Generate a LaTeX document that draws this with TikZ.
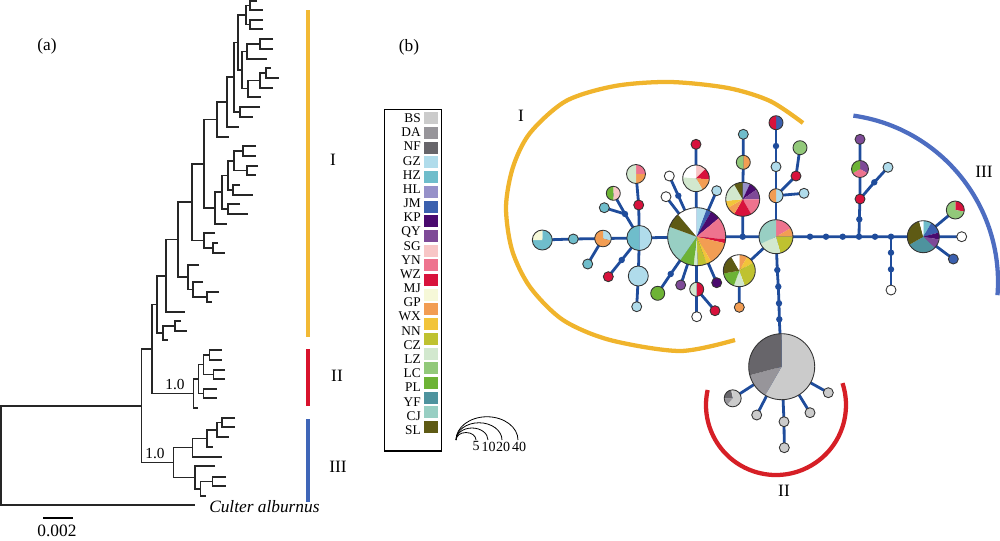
\documentclass[tikz,border=0pt]{standalone}
\usepackage{fontspec}
\setmainfont{Liberation Serif}
\definecolor{cBS}{HTML}{CBCBCB}
\definecolor{cDA}{HTML}{97959A}
\definecolor{cNF}{HTML}{67656A}
\definecolor{cGZ}{HTML}{B0DCEB}
\definecolor{cHZ}{HTML}{6FBDCB}
\definecolor{cHL}{HTML}{9691C9}
\definecolor{cJM}{HTML}{3B60AE}
\definecolor{cKP}{HTML}{4A0A6E}
\definecolor{cQY}{HTML}{7E4A97}
\definecolor{cSG}{HTML}{F8C6C6}
\definecolor{cYN}{HTML}{EE738E}
\definecolor{cWZ}{HTML}{D8123C}
\definecolor{cCR}{HTML}{F6F8D8}
\definecolor{cOR}{HTML}{F29D53}
\definecolor{cYE}{HTML}{F2C43A}
\definecolor{cYG}{HTML}{BFC230}
\definecolor{cPG}{HTML}{D2E8CE}
\definecolor{cLG}{HTML}{92C97A}
\definecolor{cGR}{HTML}{6DB335}
\definecolor{cDT}{HTML}{4E939E}
\definecolor{cLT}{HTML}{98CFC3}
\definecolor{cOL}{HTML}{5E5A14}
\definecolor{netblue}{HTML}{1F4C9B}
\definecolor{arcY}{HTML}{F0B42C}
\definecolor{arcB}{HTML}{4D6DC1}
\definecolor{arcR}{HTML}{D61F26}
\definecolor{barY}{HTML}{F2B935}
\definecolor{barR}{HTML}{D8122C}
\definecolor{barB}{HTML}{3F66B8}
\tikzset{
  tree/.style={line width=0.8pt, black!85},
  edge/.style={line width=2.1pt, netblue},
  pieline/.style={draw=black!80, line width=0.65pt},
  bigtxt/.style={font=\fontsize{13}{15}\selectfont, inner sep=0pt},
  legtxt/.style={font=\fontsize{10}{11}\selectfont, inner sep=0pt, anchor=base east},
}
\newcommand\mypie[3]{%
  \gdef\curang{-90}%
  \foreach \pc/\pd in {#3}{%
    \pgfmathsetmacro\nextang{\curang+\pd}%
    \fill[\pc] (#1) -- ++(\curang:#2) arc[start angle=\curang, end angle=\nextang, radius=#2] -- cycle;
    \xdef\curang{\nextang}%
  }%
  \draw[pieline] (#1) circle[radius=#2];
}
\newcommand\onec[3]{\fill[#3] (#1) circle[radius=#2]; \draw[pieline] (#1) circle[radius=#2];}
\newcommand\dotn[1]{\fill[netblue] (#1) circle[radius=3.2];}
\newcommand\br[5]{\draw[tree] (#3,#2) -- (#1,#2) -- (#1,#4) -- (#5,#4);}
\begin{document}
\begin{tikzpicture}[x=0.75pt,y=-0.75pt]
\useasboundingbox (0,0) rectangle (1000,540);
% ---------------- (a) tree ----------------
\node[bigtxt] (la) at (47,46) {(a)};
\br{250}{1}{257}{10}{263}
\br{250}{20}{263}{29}{263}
\br{246}{5.5}{250}{24.5}{250}
\br{260}{39}{273}{49}{273}
\br{247}{44}{260}{59}{267}
\br{266}{68}{271}{78}{279}
\br{260}{73}{266}{88}{273}
\br{248}{80.5}{260}{97}{261}
\br{242}{51.5}{247}{88.75}{248}
\br{238}{15}{246}{70}{242}
\br{240}{107}{260}{117}{253}
\br{234}{42.5}{238}{112}{240}
\br{227}{77}{234}{127}{239}
\br{217}{102}{227}{137}{229}
\br{243}{146}{256}{156}{256}
\br{247}{166}{258}{175}{256}
\br{234}{151}{243}{170.5}{247}
\br{233}{185}{240}{195}{253}
\br{228}{161}{234}{190}{233}
\br{228}{204}{240}{214}{248}
\br{222}{175.5}{228}{209}{228}
\br{215}{192}{222}{224}{227}
\br{204}{119.5}{217}{208}{215}
\br{213}{243}{218}{253}{225}
\br{204}{233}{215}{248}{213}
\br{192}{164}{204}{240.5}{204}
\br{207}{292}{219}{302}{212}
\br{193}{282}{203}{297}{207}
\br{188}{265}{199}{289.5}{193}
\br{178}{202}{192}{277}{188}
\br{166}{239.5}{178}{312}{185}
\br{175}{321}{181}{331}{187}
\br{163}{326}{175}{340}{168}
\br{157}{276}{166}{333}{163}
\br{209.3}{350}{221.7}{360}{221.7}
\br{213.3}{370}{225}{379}{225}
\br{203.3}{355}{209.3}{374.5}{213.3}
\br{203.3}{389}{216.7}{398}{216.7}
\br{198.3}{364.75}{203.3}{393.5}{203.3}
\br{193.3}{379}{198.3}{408}{198.3}
\br{152}{304.5}{157}{393.5}{193.3}
\br{222}{418}{235}{427}{235}
\br{217}{422.5}{222}{437}{229.3}
\br{207}{430}{217}{447}{213}
\br{192.7}{438.5}{207}{457}{221.7}
\br{212.7}{477}{226}{486}{226}
\br{200.7}{481.5}{212.7}{496}{206}
\br{195}{466}{215}{489}{200.7}
\br{173.3}{447.75}{192.7}{477.5}{195}
\br{141.7}{349}{152}{462.6}{173.3}
\br{1}{406}{141.7}{505}{195}
\node[font=\fontsize{11.5}{13}\selectfont, inner sep=0pt] (s2) at (175,385) {1.0};
\node[font=\fontsize{11.5}{13}\selectfont, inner sep=0pt] (s3) at (155,454) {1.0};
\node[bigtxt, anchor=west, font=\fontsize{13}{15}\selectfont\itshape] (out) at (209,507) {Culter alburnus};
\coordinate (sb1) at (43,518); \coordinate (sb2) at (73,518);
\draw[line width=0.8pt] (sb1) -- (sb2);
\node[bigtxt] (sbl) at (57,531) {0.002};
\coordinate (bI1) at (308,10); \coordinate (bI2) at (308,337);
\coordinate (bII1) at (308,349); \coordinate (bII2) at (308,406);
\coordinate (bIII1) at (308,419); \coordinate (bIII2) at (308,502);
\draw[barY, line width=3pt] (bI1) -- (bI2);
\draw[barR, line width=3pt] (bII1) -- (bII2);
\draw[barB, line width=3pt] (bIII1) -- (bIII2);
\node[bigtxt] (tI) at (333,160) {I};
\node[bigtxt] (tII) at (337,376) {II};
\node[bigtxt] (tIII) at (338,467) {III};
% ---------------- (b) legend ----------------
\node[bigtxt] (lb) at (409,47) {(b)};
\draw[line width=0.8pt] (384.3,109.3) rectangle (441.3,451);
\foreach \lab [count=\i] in {BS,DA,NF,GZ,HZ,HL,JM,KP,QY,SG,YN,WZ,MJ,GP,WX,NN,CZ,LZ,LC,PL,YF,CJ,SL}{
  \node[legtxt] (leg\i) at ({421},{122.6+14.17*(\i-1)}) {\lab};
}
\foreach \sc [count=\i] in {cBS,cDA,cNF,cGZ,cHZ,cHL,cJM,cKP,cQY,cSG,cYN,cWZ,cCR,cOR,cYE,cYG,cPG,cLG,cGR,cDT,cLT,cOL}{
  \fill[\sc] ({424.3},{118.3+14.7*(\i-1)-6}) rectangle ({437.7},{118.3+14.7*(\i-1)+6});
}
\coordinate (sz) at (456,440);
\foreach \r in {10,16,23,31}{
  \draw[line width=0.6pt] (sz) arc[start angle=180, end angle=360, x radius=\r, y radius=0.75*\r];
}
\node[font=\fontsize{10.5}{12}\selectfont, inner sep=0pt, anchor=north] (k5) at (476,441.5) {5};
\node[font=\fontsize{10.5}{12}\selectfont, inner sep=0pt, anchor=north] (k10) at (488.5,441.5) {10};
\node[font=\fontsize{10.5}{12}\selectfont, inner sep=0pt, anchor=north] (k20) at (503,441.5) {20};
\node[font=\fontsize{10.5}{12}\selectfont, inner sep=0pt, anchor=north] (k40) at (519,441.5) {40};
% ---------------- network arcs ----------------
\draw[arcY, line width=3.2pt] plot[smooth] coordinates {(735,340) (680,351) (610,340) (563,320) (530,287) (512,250) (506,207) (513,167) (530,133) (566,101) (615,86) (670,82) (728,88) (770,101) (803,123)};
\coordinate (cIII) at (830,282);
\draw[arcB, line width=3.2pt] (cIII) ++(-82:168) arc[start angle=-82, end angle=4.5, radius=168];
\coordinate (cII) at (776,405);
\draw[arcR, line width=3.2pt] (cII) ++(192.4:70) arc[start angle=192.4, end angle=-18.2, radius=70];
\node[bigtxt] (nI) at (521,116) {I};
\node[bigtxt] (nIII) at (984,172) {III};
\node[bigtxt] (nII) at (784,491) {II};
% ---------------- network nodes ----------------
\coordinate (tc) at (542.3,240);
\coordinate (t1) at (573.3,239);
\coordinate (op) at (603,238.5);
\coordinate (t2) at (587.7,264);
\coordinate (n1) at (639.3,238);
\coordinate (dA) at (625,214);
\coordinate (gp) at (613.3,193.3);
\coordinate (t3) at (604.3,207.7);
\coordinate (cr1) at (638.7,205);
\coordinate (pp) at (636,174);
\coordinate (dB) at (621.7,260);
\coordinate (cr2) at (608.3,276.7);
\coordinate (lb1) at (638.3,276);
\coordinate (lb2) at (636.7,306.7);
\coordinate (p1) at (696.7,236.7);
\coordinate (w2) at (666,196.7);
\coordinate (dC) at (678.3,195.7);
\coordinate (w1) at (669.3,176);
\coordinate (p2) at (696,178.3);
\coordinate (cr3) at (696,144.3);
\coordinate (lb3) at (716.7,190.7);
\coordinate (dD) at (670.7,274);
\coordinate (g1) at (657.7,293.3);
\coordinate (pu1) at (680.7,285);
\coordinate (gc) at (696.7,289.3);
\coordinate (w3) at (696.7,316.7);
\coordinate (cr4) at (715,310.7);
\coordinate (dp) at (716.7,282.7);
\coordinate (d1) at (742.7,236.7);
\coordinate (p3) at (742.7,199.3);
\coordinate (og) at (743.3,162.3);
\coordinate (t4) at (743.3,134.3);
\coordinate (p4) at (776,236.7);
\coordinate (p5) at (739.3,270.7);
\coordinate (o1) at (739.3,307.3);
\coordinate (ol) at (776,195.7);
\coordinate (lb4) at (776,166.7);
\coordinate (dE) at (776,146);
\coordinate (cb) at (776,122.7);
\coordinate (cr5) at (796,176);
\coordinate (lg1) at (800,147.7);
\coordinate (lb5) at (804,193.3);
\coordinate (h1) at (810,236.7);
\coordinate (h2) at (826,236.7);
\coordinate (h3) at (842.7,236.7);
\coordinate (j1) at (859,236.7);
\coordinate (h4) at (875,236.7);
\coordinate (j2) at (891,236.7);
\coordinate (dF) at (859.3,219.3);
\coordinate (cr6) at (860,199);
\coordinate (gpp) at (860,169);
\coordinate (pu2) at (860,139.3);
\coordinate (dG) at (874.3,182.3);
\coordinate (lb6) at (888,167.3);
\coordinate (dH) at (891,252.7);
\coordinate (dI) at (891,269.3);
\coordinate (w4) at (891,290);
\coordinate (p6) at (923.3,236.7);
\coordinate (lgc) at (955.3,210);
\coordinate (w5) at (961.7,236.7);
\coordinate (bl) at (953.3,259);
\coordinate (dJ) at (777.3,270);
\coordinate (dK) at (778.3,286.7);
\coordinate (dL) at (779,303.3);
\coordinate (dM) at (779.3,319.3);
\coordinate (p7) at (781.7,366.7);
\coordinate (gd) at (732.7,398.3);
\coordinate (gr1) at (756.7,415);
\coordinate (gr2) at (784,421.7);
\coordinate (gr3) at (784.3,447.7);
\coordinate (gr4) at (810,412.7);
\coordinate (gr5) at (828.3,392.7);
% edges
\draw[edge] (tc) -- (t1) -- (op) -- (n1) -- (p1) -- (d1) -- (p4) -- (h1) -- (h2) -- (h3) -- (j1) -- (h4) -- (j2) -- (p6) -- (w5);
\draw[edge] (op) -- (t2);
\draw[edge] (n1) -- (dA) -- (gp);
\draw[edge] (dA) -- (t3);
\draw[edge] (n1) -- (cr1) -- (pp);
\draw[edge] (n1) -- (dB) -- (cr2);
\draw[edge] (n1) -- (lb1) -- (lb2);
\draw[edge] (p1) -- (w2);
\draw[edge] (p1) -- (dC) -- (w1);
\draw[edge] (p1) -- (p2) -- (cr3);
\draw[edge] (p1) -- (lb3);
\draw[edge] (p1) -- (dD) -- (g1);
\draw[edge] (p1) -- (pu1);
\draw[edge] (p1) -- (gc) -- (w3);
\draw[edge] (gc) -- (cr4);
\draw[edge] (p1) -- (dp);
\draw[edge] (d1) -- (p3) -- (og) -- (t4);
\draw[edge] (p4) -- (p5) -- (o1);
\draw[edge] (p4) -- (ol) -- (lb4) -- (dE) -- (cb);
\draw[edge] (ol) -- (cr5) -- (lg1);
\draw[edge] (ol) -- (lb5);
\draw[edge] (j1) -- (dF) -- (cr6) -- (gpp) -- (pu2);
\draw[edge] (cr6) -- (dG) -- (lb6);
\draw[edge] (j2) -- (dH) -- (dI) -- (w4);
\draw[edge] (p6) -- (lgc);
\draw[edge] (p6) -- (bl);
\draw[edge] (p4) -- (dJ) -- (dK) -- (dL) -- (dM) -- (p7);
\draw[edge] (p7) -- (gd);
\draw[edge] (p7) -- (gr1);
\draw[edge] (p7) -- (gr2) -- (gr3);
\draw[edge] (p7) -- (gr4);
\draw[edge] (p7) -- (gr5);
% dots
\foreach \d in {dA,dB,dC,dD,d1,dE,h1,h2,h3,j1,h4,j2,dF,dG,dH,dI,dJ,dK,dL,dM}{\dotn{\d}}
% pies
\mypie{tc}{10}{cHZ/270,cCR/90}
\onec{t1}{5}{cHZ}
\mypie{op}{8.3}{cGZ/105,cOR/255}
\onec{t2}{5}{cHZ}
\mypie{n1}{12.5}{cGZ/180,cHZ/180}
\mypie{gp}{7}{cSG/180,cGR/180}
\onec{t3}{5}{cHZ}
\onec{cr1}{5}{cWZ}
\mypie{pp}{9.5}{cYN/90,cOR/90,cPG/180}
\onec{cr2}{5}{cWZ}
\onec{lb1}{10}{cGZ}
\onec{lb2}{5}{cGZ}
\mypie{p1}{29}{cGZ/20,cJM/10,cKP/20,cYN/45,cWZ/8,cOR/47,cYE/10,cYG/18,cPG/8,cGR/29,cLT/75,cOL/30,white/40}
\onec{w1}{5}{white}
\onec{w2}{5}{white}
\mypie{p2}{13.3}{cSG/45,cWZ/50,cOR/55,cPG/125,white/85}
\onec{cr3}{5}{cWZ}
\onec{lb3}{5}{cGZ}
\onec{g1}{7}{cGR}
\onec{pu1}{5}{cQY}
\mypie{gc}{7}{cWZ/180,cPG/180}
\onec{w3}{5}{white}
\onec{cr4}{5}{cWZ}
\onec{dp}{5}{cKP}
\mypie{p3}{17}{cHL/25,cKP/30,cQY/35,cYN/60,cWZ/60,cOR/30,cYE/25,cPG/65,cOL/30}
\mypie{og}{7}{cOR/180,cLG/180}
\onec{t4}{5}{cHZ}
\mypie{p4}{17}{cYN/60,cOR/30,cYG/75,cPG/80,cLT/115}
\mypie{p5}{16}{cOR/30,cYE/30,cYG/100,cPG/40,cGR/60,cOL/70,white/30}
\onec{o1}{5}{cOR}
\mypie{ol}{7}{cGZ/180,cOR/180}
\onec{lb4}{5}{cGZ}
\mypie{cb}{7}{cJM/180,cWZ/180}
\onec{cr5}{5}{cWZ}
\onec{lg1}{7}{cLG}
\onec{lb5}{5}{cGZ}
\onec{cr6}{5}{cWZ}
\mypie{gpp}{8.5}{cQY/120,cYN/120,cGR/120}
\onec{pu2}{5}{cQY}
\onec{lb6}{5}{cGZ}
\onec{w4}{5}{white}
\mypie{p6}{16}{cHZ/30,cJM/45,cKP/25,cQY/35,cDT/105,cOL/105,white/15}
\mypie{lgc}{9}{cWZ/100,cLG/260}
\onec{w5}{5}{white}
\onec{bl}{5}{cJM}
\mypie{p7}{33}{cBS/210,cDA/45,cNF/105}
\mypie{gd}{8.5}{cBS/220,cDA/50,cNF/80,cBS/10}
\onec{gr1}{5}{cBS}
\onec{gr2}{5}{cBS}
\onec{gr3}{5}{cBS}
\onec{gr4}{5}{cBS}
\onec{gr5}{5}{cBS}
\end{tikzpicture}
\end{document}
